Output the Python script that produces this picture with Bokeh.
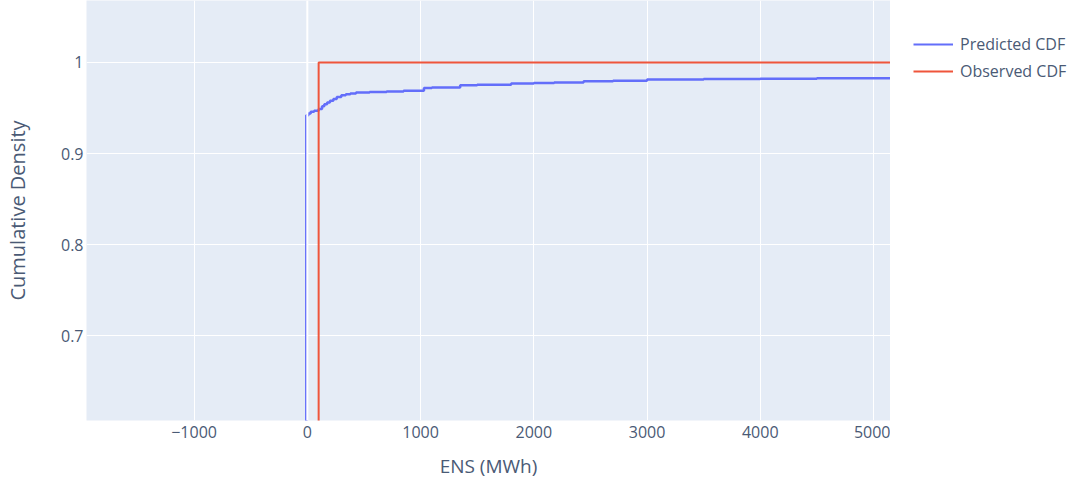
from bokeh.plotting import figure
from bokeh.layouts import row
from bokeh.models import Range1d, FixedTicker, NumeralTickFormatter, Legend, LegendItem, Span
from bokeh.embed import file_html
from bokeh.resources import INLINE

# Predicted CDF (step curve)
pred_ens = [-9, -9, 10, 30, 60, 100, 130, 150, 175, 200, 230, 260, 300, 340, 380, 430,
            550, 700, 850, 1030, 1100, 1350, 1500, 1800, 2000, 2180, 2440, 2700, 3000,
            3500, 4000, 4500, 5200]
pred_cdf = [0.50, 0.942, 0.944, 0.946, 0.947, 0.949, 0.952, 0.954, 0.956, 0.958, 0.960,
            0.962, 0.964, 0.965, 0.966, 0.967, 0.9675, 0.968, 0.969, 0.972, 0.9725, 0.975,
            0.9755, 0.977, 0.9775, 0.978, 0.9795, 0.980, 0.9813, 0.9818, 0.9822, 0.9826, 0.983]

# Observed CDF
obs_ens = [100, 100, 5200]
obs_cdf = [0.50, 1.0, 1.0]

series_names = ["Predicted CDF", "Observed CDF"]
series_colors = ["#636EFA", "#EF553B"]

x_ticks = [-1000, 0, 1000, 2000, 3000, 4000, 5000]
y_ticks = [0.7, 0.8, 0.9, 1.0]

FONT = "Open Sans"
TXT = "#4a5a75"

p = figure(width=890, height=482, output_backend="svg", toolbar_location=None,
           x_range=Range1d(-1950, 5150), y_range=Range1d(0.607, 1.068),
           min_border_left=86, min_border_right=0, min_border_top=0, min_border_bottom=62,
           background_fill_color="#E5ECF6", border_fill_color="white", outline_line_color=None)

p.xgrid.grid_line_color = "white"
p.ygrid.grid_line_color = "white"
p.xgrid.grid_line_width = 1
p.ygrid.grid_line_width = 1
p.xaxis.ticker = FixedTicker(ticks=x_ticks)
p.yaxis.ticker = FixedTicker(ticks=y_ticks)
p.xaxis.major_label_overrides = {-1000: "\u22121000"}
p.yaxis.formatter = NumeralTickFormatter(format="0.[0]")

for ax in (p.xaxis[0], p.yaxis[0]):
    ax.axis_line_color = None
    ax.major_tick_line_color = None
    ax.minor_tick_line_color = None
    ax.major_tick_out = 0
    ax.major_tick_in = 0
    ax.major_label_text_font = FONT
    ax.major_label_text_font_size = "16px"
    ax.major_label_text_color = TXT
    ax.axis_label_text_font = FONT
    ax.axis_label_text_font_style = "normal"
    ax.axis_label_text_color = TXT

p.xaxis.axis_label = "ENS (MWh)"
p.yaxis.axis_label = "Cumulative Density"
p.xaxis.axis_label_text_font_size = "19px"
p.yaxis.axis_label_text_font_size = "20px"
p.xaxis.major_label_standoff = 5
p.yaxis.major_label_standoff = 3
p.xaxis.axis_label_standoff = 12
p.yaxis.axis_label_standoff = 27

p.add_layout(Span(location=0, dimension="height", line_color="white", line_width=2), "center")

p.step(pred_ens, pred_cdf, mode="after", line_color=series_colors[0], line_width=2.5)
p.step(obs_ens, obs_cdf, mode="after", line_color=series_colors[1], line_width=2)

# Legend panel: a narrow figure whose view shows none of the data, holding only the legend
q = figure(width=190, height=482, output_backend="svg", toolbar_location=None,
           min_border=0, outline_line_color=None, background_fill_color="white",
           border_fill_color="white", x_range=Range1d(1e6, 1e6 + 1), y_range=Range1d(50, 51))
q.axis.visible = False
q.grid.visible = False
q_pred = q.step(pred_ens, pred_cdf, mode="after", line_color=series_colors[0], line_width=2)
q_obs = q.step(obs_ens, obs_cdf, mode="after", line_color=series_colors[1], line_width=2)
legend = Legend(items=[LegendItem(label=series_names[0], renderers=[q_pred]),
                       LegendItem(label=series_names[1], renderers=[q_obs])],
                location=(23, 338), background_fill_alpha=0,
                border_line_color=None, label_text_font=FONT, label_text_font_size="16px",
                label_text_color=TXT, glyph_width=40, glyph_height=20, label_standoff=7,
                spacing=5, padding=10, margin=0, label_height=20)
q.add_layout(legend, "center")

open("out.html", "w").write(file_html(row(p, q), INLINE))
